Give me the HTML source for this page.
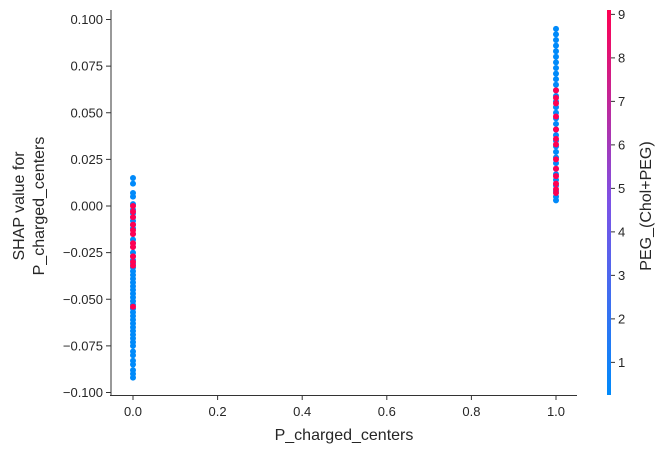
<!DOCTYPE html>
<html><head><meta charset="utf-8"><style>
body{margin:0;background:#fff}
svg text{font-family:"Liberation Sans",sans-serif;fill:#262626}
</style></head><body>
<svg id="chart" width="662" height="454" xmlns="http://www.w3.org/2000/svg">
<defs><linearGradient id="cb" x1="0" y1="1" x2="0" y2="0">
<stop offset="0" stop-color="rgb(0,138,250)"/><stop offset="0.5" stop-color="rgb(124,82,230)"/><stop offset="1" stop-color="rgb(255,0,82)"/></linearGradient></defs>
<g id="axes"></g><g id="pts"></g>
</svg>
<script>
const xTicks=[0,0.2,0.4,0.6,0.8,1.0];
const xTickLabels=["0.0","0.2","0.4","0.6","0.8","1.0"];
const yTicks=[0.1,0.075,0.05,0.025,0,-0.025,-0.05,-0.075,-0.1];
const yTickLabels=["0.100","0.075","0.050","0.025","0.000","\u22120.025","\u22120.050","\u22120.075","\u22120.100"];
const cTicks=[1,2,3,4,5,6,7,8,9];
const leftBlue=[0.015,0.012,0.007,0.005,0.001,-0.002,-0.004,-0.006,-0.008,-0.010,-0.012,-0.015,-0.018,-0.020,-0.022,-0.025,-0.027,-0.029,-0.031,-0.033,-0.035,-0.037,-0.039,-0.041,-0.043,-0.045,-0.047,-0.049,-0.051,-0.053,-0.055,-0.057,-0.059,-0.061,-0.063,-0.065,-0.067,-0.069,-0.071,-0.073,-0.075,-0.078,-0.080,-0.083,-0.085,-0.088,-0.090,-0.092];
const leftPink=[0.000,-0.003,-0.006,-0.010,-0.013,-0.015,-0.020,-0.022,-0.027,-0.030,-0.032,-0.054];
const rightBlue=[0.095,0.092,0.089,0.086,0.083,0.080,0.077,0.074,0.071,0.068,0.065,0.062,0.059,0.056,0.053,0.050,0.047,0.044,0.041,0.038,0.035,0.032,0.029,0.026,0.023,0.020,0.017,0.014,0.011,0.008,0.005,0.003];
const rightPink=[0.062,0.058,0.055,0.048,0.041,0.036,0.033,0.025,0.020,0.016,0.012,0.009,0.007];
const X=v=>133+v*423;
const Y=v=>206-v*1865;
const C=v=>395-(v-0.25)*43.5;
const NS="http://www.w3.org/2000/svg";
function mk(t,a,p,txt){const e=document.createElementNS(NS,t);for(const k in a)e.setAttribute(k,a[k]);if(txt!==undefined)e.textContent=txt;p.appendChild(e);return e;}
const ax=document.getElementById('axes');
let e=mk('line',{x1:111,y1:10,x2:111,y2:396,stroke:'#333','stroke-width':1},ax);


e=mk('line',{x1:110,y1:395.5,x2:577,y2:395.5,stroke:'#333','stroke-width':1},ax);


yTicks.forEach((v,i)=>{mk('line',{x1:106,x2:111,y1:Y(v),y2:Y(v),stroke:'#333'},ax);
 const t=mk('text',{x:103,y:Y(v)+4.5,'text-anchor':'end','font-size':13},ax,yTickLabels[i]);
 
 });
xTicks.forEach((v,i)=>{mk('line',{x1:X(v),x2:X(v),y1:395,y2:400,stroke:'#333'},ax);
 const t=mk('text',{x:X(v),y:416,'text-anchor':'middle','font-size':13},ax,xTickLabels[i]);
 
 });
e=mk('text',{x:344,y:440,'text-anchor':'middle','font-size':16},ax,'P_charged_centers');


e=mk('text',{x:0,y:0,'text-anchor':'middle','font-size':16,transform:'translate(24,206) rotate(-90)'},ax,'SHAP value for');


e=mk('text',{x:0,y:0,'text-anchor':'middle','font-size':16,transform:'translate(44,206) rotate(-90)'},ax,'P_charged_centers');


e=mk('rect',{x:607,y:10,width:4,height:385,fill:'url(#cb)'},ax);


cTicks.forEach(v=>{mk('line',{x1:611,x2:615,y1:C(v),y2:C(v),stroke:'#333'},ax);
 const t=mk('text',{x:618,y:C(v)+4.5,'font-size':13},ax,String(v));
 
 });
e=mk('text',{x:0,y:0,'text-anchor':'middle','font-size':16,transform:'translate(651,206) rotate(-90)'},ax,'PEG_(Chol+PEG)');


const pts=document.getElementById('pts');
function draw(arr,xv,col){arr.forEach(v=>{const c=mk('circle',{cx:X(xv),cy:Y(v),r:3,fill:col},pts);
 
 });}
draw(leftBlue,0,'rgb(0,138,250)');draw(rightBlue,1,'rgb(0,138,250)');
draw(leftPink,0,'rgb(255,0,82)');draw(rightPink,1,'rgb(255,0,82)');
</script>
</body></html>
